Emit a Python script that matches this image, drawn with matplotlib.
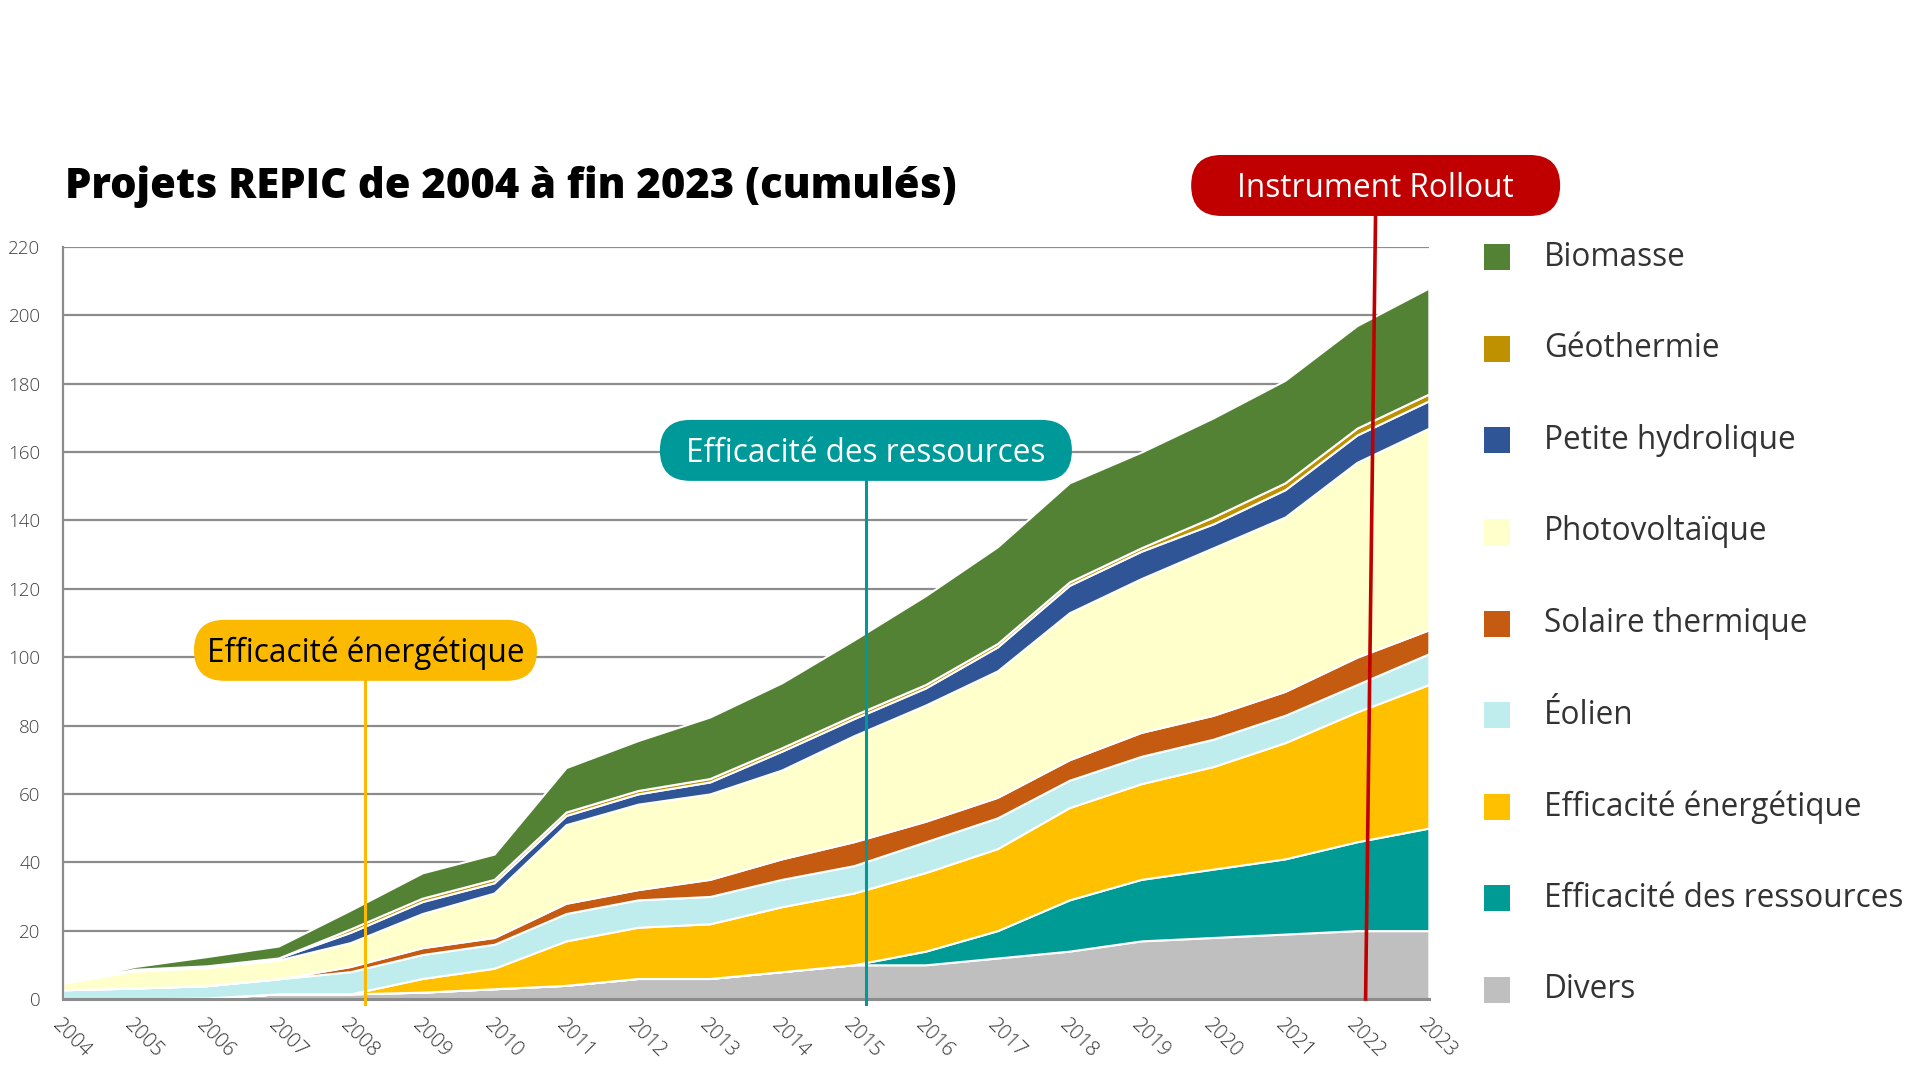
import matplotlib.pyplot as plt
from matplotlib.patches import Rectangle, FancyBboxPatch
from matplotlib.transforms import IdentityTransform
import numpy as np

plt.rcParams['font.family'] = ['Open Sans', 'DejaVu Sans']

# cumulated number of projects per technology
years = list(range(2004, 2024))
divers = [0, 0, 0.3, 1.5, 1.5, 2, 3, 4, 6, 6, 8, 10, 10, 12, 14, 17, 18, 19, 20, 20]
eff_ressources = [0, 0, 0, 0, 0, 0, 0, 0, 0, 0, 0, 0, 4, 8, 15, 18, 20, 22, 26, 30]
eff_energie = [0, 0, 0, 0, 0, 4, 6, 13, 15, 16, 19, 21, 23, 24, 27, 28, 30, 34, 38, 42]
eolien = [2.7, 3.2, 3.6, 4.4, 6.5, 7, 7, 8, 8, 8, 8, 8, 9, 9, 8, 8, 8, 8, 8, 9]
solaire = [0, 0, 0, 0, 1.5, 2, 2, 3, 3, 5, 6, 7, 6, 6, 6, 7, 7, 7, 8, 7]
photovoltaique = [2, 5, 5.3, 5.5, 7, 10, 13, 23, 25, 25, 26, 31, 34, 37, 43, 45, 49, 51, 57, 59]
hydro = [0, 0.5, 0.5, 0.6, 3, 3.5, 3, 2.7, 3, 3.5, 5.5, 5, 5, 7, 8, 8, 7, 8, 8, 8]
geothermie = [0, 0, 0, 0, 1, 1, 1, 1, 1, 1, 1, 1, 1, 1, 1, 1, 2, 2, 2, 2]
biomasse = [0, 0.8, 2.7, 3.5, 5.5, 7.4, 7.4, 13, 14.6, 18, 19, 22, 26, 28.3, 29, 28, 29, 30, 30, 31]

series_names = ["Divers", "Efficacité des ressources", "Efficacité énergétique", "Éolien",
                "Solaire thermique", "Photovoltaïque", "Petite hydrolique", "Géothermie", "Biomasse"]
series_values = [divers, eff_ressources, eff_energie, eolien, solaire,
                 photovoltaique, hydro, geothermie, biomasse]
series_colors = ["#bfbfbf", "#009b95", "#ffc000", "#bfecec", "#c55a11",
                 "#ffffcc", "#2f5597", "#bf9000", "#548235"]

# milestones: label, year position, colour, text colour
milestones = [
    ("Efficacité énergétique", 2008.21, "#fbba00", "black"),
    ("Efficacité des ressources", 2015.17, "#00999a", "white"),
    ("Instrument Rollout", 2022.26, "#c00000", "white"),
]
milestone_label_y = [102, 160.5, 238]
milestone_line_top = [96, 154, 232]
box_width_px = [343, 412, 369]
box_height_px = 61

fig = plt.figure(figsize=(19.2, 10.8), dpi=100)
ax = fig.add_axes([0.0327, 0.075, 0.7115, 0.6963])

ax.stackplot(years, *series_values, colors=series_colors,
             edgecolor="white", linewidth=1.5, zorder=2)

ax.set_xlim(2004, 2023)
ax.set_ylim(0, 220)
ax.set_yticks(range(0, 221, 20))
ax.set_xticks(years)
ax.set_xticklabels([str(y) for y in years], rotation=-45, ha="left", va="top",
                   rotation_mode="anchor")
ax.tick_params(axis="y", length=0, pad=16, labelsize=13.5, labelcolor="#404040")
ax.tick_params(axis="x", length=0, pad=12, labelsize=14.5, labelcolor="#333333")
for lab in ax.get_xticklabels() + ax.get_yticklabels():
    lab.set_fontweight("light")

ax.set_axisbelow(True)
ax.yaxis.grid(True, color="#8c8c8c", linewidth=1.6)
for side in ("top", "right"):
    ax.spines[side].set_visible(False)
ax.spines["left"].set_color("#8c8c8c")
ax.spines["left"].set_linewidth(1.6)
ax.spines["bottom"].set_color("#8c8c8c")
ax.spines["bottom"].set_linewidth(2.2)
ax.spines["bottom"].set_zorder(3)

# milestone lines and pill labels
for (label, xpos, col, tcol), ly, ltop, bw in zip(milestones, milestone_label_y,
                                                  milestone_line_top, box_width_px):
    if label == "Instrument Rollout":
        ax.plot([xpos - 0.14, xpos], [0, ltop], color=col, linewidth=2.6,
                zorder=4, clip_on=False)
    else:
        ax.plot([xpos, xpos], [-1.5, ltop], color=col, linewidth=2.2,
                zorder=4, clip_on=False)
    cx, cy = ax.transData.transform((xpos, ly))
    pill = FancyBboxPatch((cx - bw / 2, cy - box_height_px / 2), bw, box_height_px,
                          boxstyle=f"round,pad=0,rounding_size={box_height_px / 2}",
                          facecolor=col, edgecolor="none", transform=IdentityTransform(),
                          zorder=5)
    fig.add_artist(pill)
    fig.text(cx / 1920, (cy - 3) / 1080, label, ha="center", va="center", fontsize=22.7,
             color=tcol, zorder=6)

# title
fig.text(65 / 1920, 1 - 187 / 1080, "Projets REPIC de 2004 à fin 2023 (cumulés)",
         fontsize=30, fontweight="heavy", ha="left", va="center", color="black")

# legend, top to bottom
legend_y = np.linspace(257, 990, len(series_names))
for name, col, yc in zip(series_names[::-1], series_colors[::-1], legend_y):
    fig.add_artist(Rectangle((1484 / 1920, 1 - (yc + 13) / 1080), 26 / 1920, 26 / 1080,
                             transform=fig.transFigure, facecolor=col, edgecolor="none"))
    fig.text(1544 / 1920, 1 - yc / 1080, name, fontsize=22.7, color="#333333",
             ha="left", va="center")

fig.savefig("out.png", dpi=100, facecolor="white")
